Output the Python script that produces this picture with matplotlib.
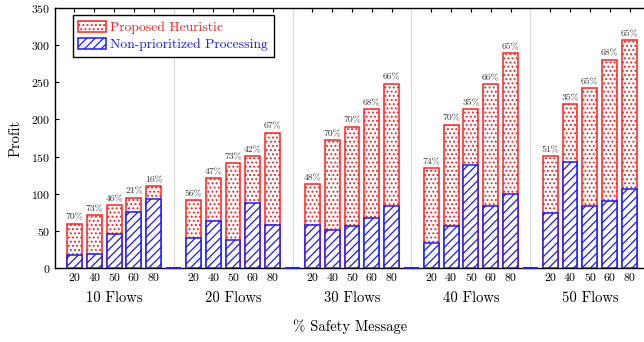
import matplotlib
matplotlib.use("Agg")
import matplotlib.pyplot as plt
from matplotlib.patches import Patch
import matplotlib.transforms as mtransforms

plt.rcParams['font.family'] = 'serif'
plt.rcParams['font.serif'] = ['cmr10']
plt.rcParams['mathtext.fontset'] = 'cm'
plt.rcParams['axes.formatter.use_mathtext'] = True
plt.rcParams['hatch.linewidth'] = 0.9

groups = ["10 Flows", "20 Flows", "30 Flows", "40 Flows", "50 Flows"]
safety = ["20", "40", "50", "60", "80"]
proposed = [
    [60, 71, 85, 95, 110],
    [91, 121, 141, 151, 182],
    [113, 172, 190, 214, 248],
    [134, 193, 214, 247, 289],
    [151, 220, 242, 280, 306],
]
nonprio = [
    [18, 19, 46, 75, 93],
    [40, 64, 38, 88, 58],
    [58, 51, 57, 68, 84],
    [34, 57, 139, 83, 100],
    [74, 143, 84, 90, 107],
]
pct_labels = [
    ["70%", "73%", "46%", "21%", "16%"],
    ["56%", "47%", "73%", "42%", "67%"],
    ["48%", "70%", "70%", "68%", "66%"],
    ["74%", "70%", "35%", "66%", "65%"],
    ["51%", "35%", "65%", "68%", "65%"],
]

RED = '#ff2020'
BLUE = '#1a1aff'
W = 0.75
STEP = 6
RED_HATCH = '....'
BLUE_HATCH = '////'

fig = plt.figure(figsize=(6.44, 3.42), dpi=100)
ax = fig.add_axes([55/644, 0.2155, 590/644, 0.7625])

xs, xl, reds, blues = [], [], [], []
for g in range(len(groups)):
    for i in range(len(safety)):
        xs.append(g * STEP + i)
        xl.append(safety[i])
        reds.append(proposed[g][i])
        blues.append(nonprio[g][i])

gaps = [g * STEP + len(safety) for g in range(len(groups) - 1)]
for gx in gaps:
    ax.axvline(gx, color='#d9d9d9', lw=0.8, zorder=0)

ax.bar(xs, reds, width=W, facecolor='white', edgecolor=RED, hatch=RED_HATCH, lw=1.1, zorder=2)
ax.bar(xs, blues, width=W, facecolor='white', edgecolor=BLUE, hatch=BLUE_HATCH, lw=1.1, zorder=3)
zb = ax.bar(gaps, [0] * len(gaps), width=W, facecolor='none', edgecolor=BLUE, lw=1.4, zorder=5)
for p in zb:
    p.set_clip_on(False)

k = 0
for g in range(len(groups)):
    for i in range(len(safety)):
        ax.text(xs[k], reds[k] + 2.5, pct_labels[g][i], ha='center', va='bottom',
                fontsize=7, color='#333333', zorder=4)
        k += 1

ax.set_xlim(-0.98, 28.78)
ax.set_ylim(0, 350)
ax.set_yticks(range(0, 351, 50))
ax.set_xticks(xs)
ax.set_xticklabels(xl)
ax.tick_params(axis='x', direction='in', top=True, bottom=True, length=3, labelsize=8.5, pad=4)
ax.tick_params(axis='y', direction='in', right=False, length=3, labelsize=8.5)
ax.spines['right'].set_visible(False)
for s in ['left', 'top', 'bottom']:
    ax.spines[s].set_linewidth(1.0)
ax.set_axisbelow(False)

trans = mtransforms.blended_transform_factory(ax.transData, fig.transFigure)
for g, name in enumerate(groups):
    ax.text(g * STEP + 2, 1 - 298/342, name, transform=trans, ha='center', va='center', fontsize=10.5)

fig.text(350/644, 1 - 327/342, '% Safety Message', ha='center', va='center', fontsize=10.5)
fig.text(16/644, 1 - 138/342, 'Profit', ha='center', va='center', rotation=90, fontsize=10.5)

handles = [Patch(facecolor='white', edgecolor=RED, hatch=RED_HATCH, lw=1.1),
           Patch(facecolor='white', edgecolor=BLUE, hatch=BLUE_HATCH, lw=1.1)]
leg = ax.legend(handles, ['Proposed Heuristic', 'Non-prioritized Processing'],
                loc='upper left', bbox_to_anchor=(0.0305, 0.971), borderaxespad=0,
                fancybox=False, framealpha=1, edgecolor='black', fontsize=9.8,
                handlelength=2.0, handleheight=0.9, handletextpad=0.35, labelspacing=0.3,
                borderpad=0.4)
leg.get_frame().set_linewidth(1.0)
leg.get_texts()[0].set_color(RED)
leg.get_texts()[1].set_color(BLUE)

fig.savefig('out.png', dpi=100)
